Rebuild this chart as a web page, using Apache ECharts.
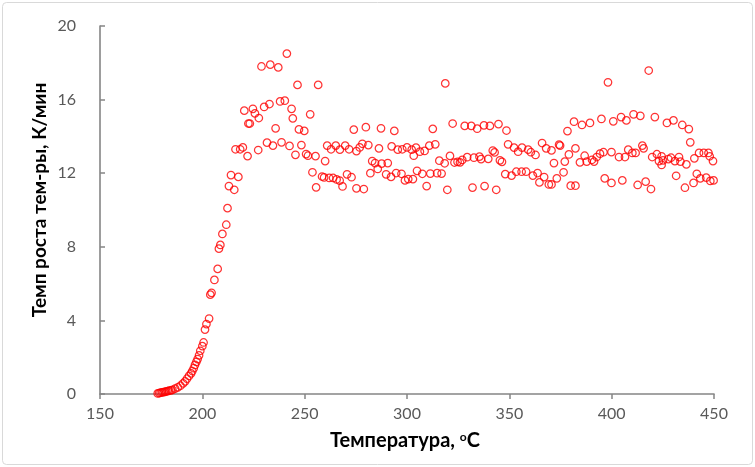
<!DOCTYPE html>
<html>
<head>
<meta charset="utf-8">
<script src="https://cdn.jsdelivr.net/npm/echarts@6/dist/echarts.min.js"></script>
<style>
  html, body { margin: 0; padding: 0; background: #ffffff; }
  #chart { width: 755px; height: 467px; }
</style>
</head>
<body>
<div id="chart"></div>
<script>
// Heating-rate measurements: temperature (°C) and rate of temperature rise (K/min)
const tempC = [
  178.2, 178.9, 179.6, 180.3, 181.0, 181.7, 182.4, 183.1, 183.8, 184.6,
  185.4, 186.7, 188.0, 189.3, 190.6, 191.6, 192.5, 193.5, 194.5, 195.1,
  195.8, 196.4, 197.1, 197.7, 198.4, 199.0, 200.0, 200.6, 201.3, 202.0,
  203.3, 203.9, 204.5, 205.9, 207.5, 208.1, 208.8, 209.8, 211.7, 212.3,
  213.0, 214.0, 215.6, 216.2, 217.6, 218.5, 219.8, 222.1, 227.3,
  241.3, 228.9, 233.2, 237.1, 246.5, 256.6, 220.5, 224.7, 225.7, 227.6,
  230.2, 232.8, 238.0, 240.3, 243.6, 244.2, 252.7, 222.5, 223.2, 235.8,
  247.2, 249.8, 231.6, 234.5, 238.7, 242.6, 248.4, 245.5, 250.7, 251.6,
  255.3, 253.8, 255.6,
  274.0, 279.9, 287.3, 293.8, 261.0, 262.9, 265.2, 267.2, 269.8, 271.7,
  275.3, 276.9, 278.2, 281.1, 286.3, 292.5, 295.5, 297.7, 300.0, 302.3,
  303.3, 260.0, 283.0, 284.4, 287.6, 290.6, 285.7, 282.1, 258.5, 259.5,
  262.0, 263.9, 265.6, 267.1, 268.5, 270.7, 272.9, 275.3, 278.9, 289.8,
  292.2, 294.7, 297.3, 299.0, 300.6, 302.9,
  304.4, 306.3, 308.6, 310.9, 313.8, 312.6, 318.7, 322.3, 328.2, 331.4,
  334.3, 337.6, 340.5, 344.7, 348.6, 315.8, 318.4, 321.0, 323.2, 324.7,
  325.9, 327.0, 329.4, 332.7, 335.4, 336.2, 339.7, 341.9, 342.8, 345.4,
  346.4, 304.9, 307.5, 311.4, 314.7, 316.9, 348.0, 309.6, 319.7, 332.0,
  337.9, 343.6,
  349.4, 352.3, 354.3, 356.2, 359.2, 360.5, 362.8, 366.0, 368.0, 370.6,
  374.3, 374.8, 379.1, 382.3, 371.8, 377.1, 384.5, 386.8, 387.8, 390.4,
  391.4, 392.7, 394.3, 396.0, 399.9, 351.1, 353.4, 356.0, 358.2, 361.5,
  363.8, 364.7, 367.0, 369.3, 370.6, 373.2, 376.5, 380.0, 382.3, 396.6,
  399.9, 378.4, 381.6, 385.5, 389.4, 395.0, 400.8, 398.2,
  404.6, 407.2, 410.7, 414.0, 421.1, 427.0, 430.2, 434.5, 437.7, 438.4,
  418.1, 403.6, 406.5, 408.1, 410.1, 411.7, 415.0, 415.6, 419.8, 422.1,
  424.4, 423.1, 425.1, 424.4, 427.7, 429.0, 430.9, 432.9, 433.6, 436.5,
  440.4, 442.7, 445.0, 447.3, 447.9, 449.5, 431.5, 441.6, 443.3, 446.2,
  448.2, 449.8, 440.0, 435.8, 405.2, 412.7, 416.6, 419.2
];
const rateKmin = [
  0.03, 0.05, 0.07, 0.09, 0.10, 0.12, 0.14, 0.16, 0.18, 0.20,
  0.22, 0.29, 0.36, 0.45, 0.58, 0.69, 0.83, 0.98, 1.12, 1.25,
  1.40, 1.58, 1.75, 1.90, 2.10, 2.35, 2.60, 2.80, 3.50, 3.80,
  4.10, 5.40, 5.50, 6.20, 6.80, 7.90, 8.10, 8.70, 9.20, 10.10,
  11.30, 11.90, 11.10, 13.30, 11.80, 13.30, 13.40, 12.93, 13.26,
  18.50, 17.80, 17.90, 17.75, 16.80, 16.80, 15.40, 15.50, 15.25, 15.00,
  15.60, 15.76, 15.90, 15.94, 15.50, 14.98, 15.20, 14.70, 14.70, 14.44,
  14.38, 14.30, 13.66, 13.50, 13.68, 13.48, 13.53, 13.00, 13.04, 12.95,
  12.93, 12.05, 11.23,
  14.37, 14.50, 14.44, 14.30, 13.50, 13.30, 13.50, 13.28, 13.50, 13.30,
  13.20, 13.40, 13.60, 13.53, 13.35, 13.46, 13.28, 13.30, 13.40, 13.28,
  12.95, 12.66, 12.66, 12.55, 12.52, 12.55, 12.23, 12.00, 11.82, 11.77,
  11.74, 11.74, 11.66, 11.60, 11.28, 11.94, 11.78, 11.18, 11.14, 11.94,
  11.80, 12.01, 11.97, 11.61, 11.68, 11.68,
  13.39, 13.17, 13.21, 13.50, 13.57, 14.41, 16.88, 14.70, 14.57, 14.57,
  14.42, 14.60, 14.57, 14.67, 14.32, 12.68, 12.54, 12.94, 12.58, 12.62,
  12.59, 12.72, 12.87, 12.84, 12.90, 12.77, 12.78, 13.23, 13.13, 12.70,
  12.62, 12.13, 11.97, 11.98, 12.00, 11.98, 11.95, 11.30, 11.10, 11.22,
  11.30, 11.10,
  13.57, 13.39, 13.17, 13.39, 13.28, 13.14, 12.99, 13.64, 13.35, 13.24,
  13.55, 13.50, 13.02, 13.35, 12.55, 12.63, 12.59, 12.95, 12.63, 12.73,
  12.63, 12.88, 13.06, 13.14, 13.15, 11.87, 12.08, 12.08, 12.08, 11.87,
  12.01, 11.50, 11.79, 11.39, 11.39, 11.72, 12.05, 11.32, 11.32, 11.72,
  11.47, 14.29, 14.80, 14.62, 14.73, 14.95, 14.82, 16.94,
  15.05, 14.87, 15.20, 15.12, 15.05, 14.73, 14.87, 14.62, 14.40, 13.68,
  17.58, 12.88, 12.88, 13.28, 13.10, 13.10, 13.50, 13.35, 12.88, 13.03,
  12.92, 12.66, 12.70, 12.45, 12.77, 12.84, 12.66, 12.88, 12.63, 12.48,
  12.81, 13.10, 13.10, 13.10, 12.92, 12.66, 11.86, 11.97, 11.72, 11.76,
  11.58, 11.61, 11.47, 11.21, 11.61, 11.36, 11.54, 11.14
];

// Axis tick values
const xTickValues = [150, 200, 250, 300, 350, 400, 450];
const yTickValues = [0, 4, 8, 12, 16, 20];

const points = tempC.map((t, i) => [t, rateKmin[i]]);

const axisGrey = '#858585';
const labelGrey = '#595959';
const fontFamily = 'Lato, "Open Sans", sans-serif';

const chart = echarts.init(document.getElementById('chart'), null, { renderer: 'canvas' });

chart.setOption({
  animation: false,
  backgroundColor: '#ffffff',
  grid: { left: 100, right: 41, top: 26, bottom: 73, containLabel: false },
  xAxis: {
    type: 'value',
    min: xTickValues[0],
    max: xTickValues[xTickValues.length - 1],
    interval: xTickValues[1] - xTickValues[0],
    axisLine: { show: true, onZero: false, lineStyle: { color: axisGrey, width: 1.6 } },
    axisTick: { show: true, inside: false, length: 5, lineStyle: { color: axisGrey, width: 1.5 } },
    splitLine: { show: false },
    axisLabel: { color: labelGrey, fontSize: 16, fontFamily: fontFamily, margin: 12 }
  },
  yAxis: {
    type: 'value',
    min: yTickValues[0],
    max: yTickValues[yTickValues.length - 1],
    interval: yTickValues[1] - yTickValues[0],
    axisLine: { show: true, onZero: false, lineStyle: { color: axisGrey, width: 1.6 } },
    axisTick: { show: true, inside: true, length: 5, lineStyle: { color: axisGrey, width: 1.5 } },
    splitLine: { show: false },
    axisLabel: { color: labelGrey, fontSize: 16, fontFamily: fontFamily, margin: 24 }
  },
  graphic: [
    {
      type: 'rect',
      silent: true,
      shape: { x: 2.5, y: 2.5, width: 750, height: 462, r: 4 },
      style: { fill: 'none', stroke: '#d9d9d9', lineWidth: 1 }
    },
    {
      type: 'text',
      x: 405, y: 441,
      style: {
        text: 'Температура, {sup|o}C',
        font: 'bold 20px ' + fontFamily,
        fill: '#000000',
        align: 'center',
        verticalAlign: 'middle',
        rich: {
          sup: { fontSize: 12, fontWeight: 'bold', fontFamily: fontFamily, verticalAlign: 'top', fill: '#000000' }
        }
      }
    },
    {
      type: 'text',
      x: 40, y: 200,
      rotation: Math.PI / 2,
      style: {
        text: 'Темп роста тем-ры, К/мин',
        font: 'bold 19px ' + fontFamily,
        fill: '#000000',
        align: 'center',
        verticalAlign: 'middle'
      }
    }
  ],
  series: [
    {
      type: 'scatter',
      data: points,
      symbol: 'circle',
      symbolSize: 7.5,
      itemStyle: { color: 'rgba(255,255,255,0)', borderColor: '#ff0000', borderWidth: 1.25 },
      emphasis: { disabled: true }
    }
  ]
});
</script>
</body>
</html>
